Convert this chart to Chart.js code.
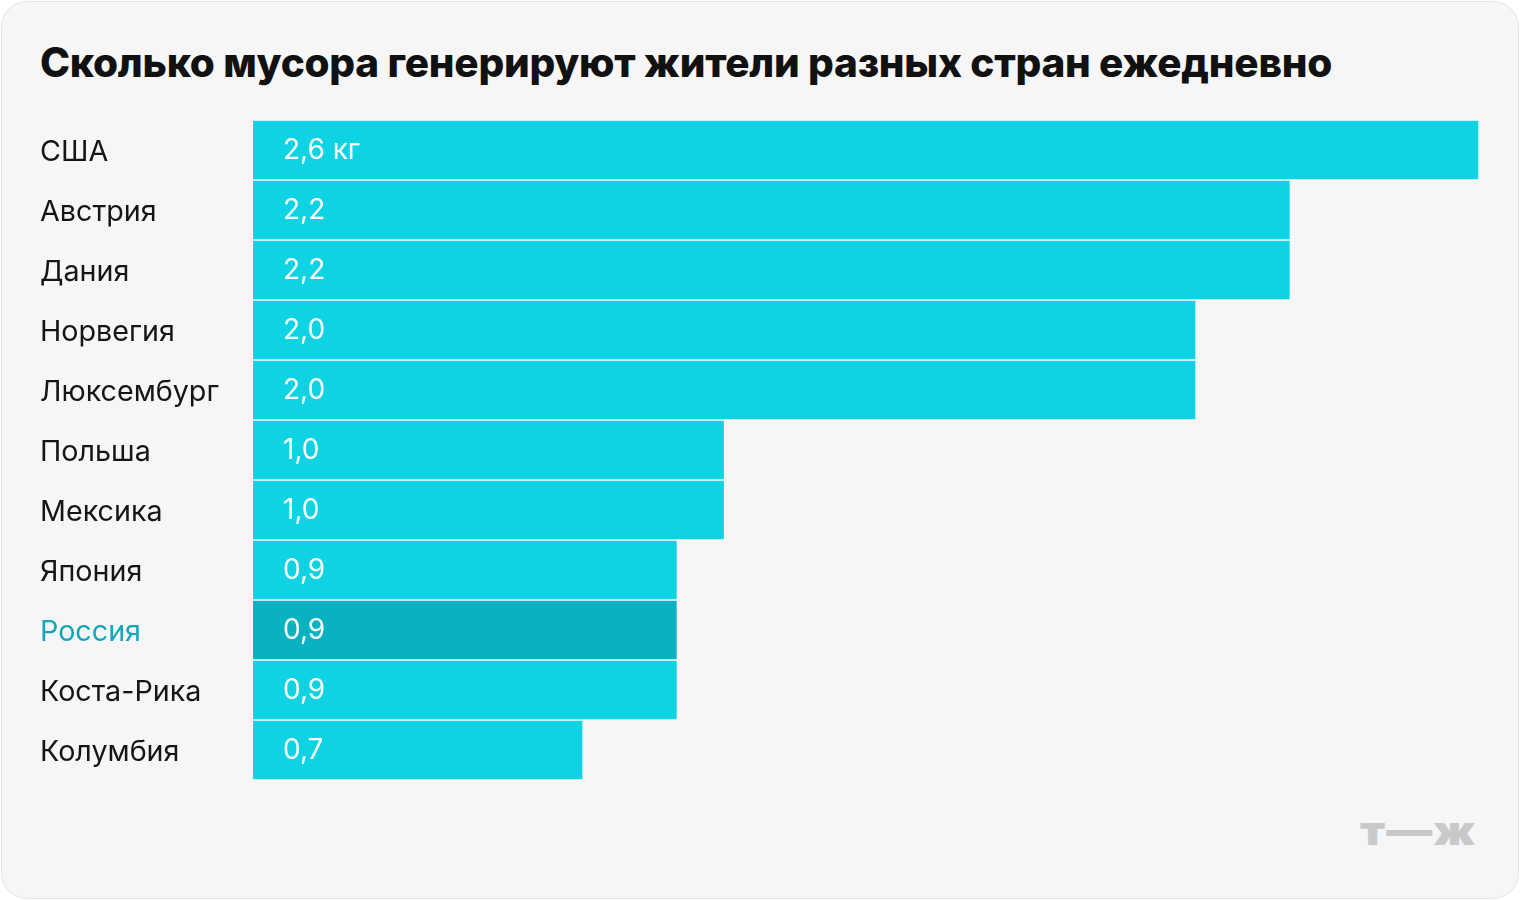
<!DOCTYPE html>
<html><head><meta charset="utf-8">
<script src="https://cdn.jsdelivr.net/npm/chart.js@4"></script>
<style>
body{margin:0;background:#fff;font-family:Inter,Roboto,sans-serif}
#card{position:absolute;left:1px;top:1px;width:1516px;height:896px;border:1px solid #e4e4e4;border-radius:26px;background:#f6f6f6}
h1{position:absolute;left:40px;top:38px;margin:0;font-size:40.5px;font-weight:800;color:#111;letter-spacing:-0.25px}
#logo{position:absolute;left:1360px;top:806px;font-size:40px;font-weight:900;color:#c9c9c9;letter-spacing:1px;transform:scaleX(1.15);transform-origin:left}
canvas{position:absolute;left:0;top:0}
</style></head><body>
<div id="card"></div>
<h1>Сколько мусора генерируют жители разных стран ежедневно</h1>
<div id="logo">т—ж</div>
<div style="position:absolute;left:0;top:0;width:1520px;height:900px"><canvas id="myChart"></canvas></div>
<script>
let countries = ["США","Австрия","Дания","Норвегия","Люксембург","Польша","Мексика","Япония","Россия","Коста-Рика","Колумбия"];
let values = [2.6,2.2,2.2,2.0,2.0,1.0,1.0,0.9,0.9,0.9,0.7];
let valueLabels = ["2,6 кг","2,2","2,2","2,0","2,0","1,0","1,0","0,9","0,9","0,9","0,7"];
let highlight = "Россия";

let colors = countries.map(c => c==highlight ? "#0ab1c0" : "#0fd3e3");

let barText = {
  id:"barText",
  afterDatasetsDraw(chart){
    let c = chart.ctx;
    c.save();
    c.font = "28px Inter, Roboto, sans-serif";
    c.fillStyle = "#fff";
    c.textBaseline = "middle";
    chart.getDatasetMeta(0).data.forEach((b,i)=>{
      c.fillText(valueLabels[i], b.base+30, b.y+1);
    });
    c.restore();
  }
};

let ctx = document.getElementById("myChart");
new Chart(ctx, {
  type:"bar",
  data:{labels:countries, datasets:[{data:values, backgroundColor:colors, borderColor:"#fff", borderWidth:1, borderSkipped:"left", barPercentage:1, categoryPercentage:1}]},
  options:{
    indexAxis:"y", responsive:true, maintainAspectRatio:false, animation:false,
    layout:{padding:{left:40,top:120,right:41,bottom:120}},
    plugins:{legend:{display:false},tooltip:{enabled:false}},
    scales:{
      x:{display:false,min:0,max:2.6},
      y:{grid:{display:false},border:{display:false},
        afterFit(s){s.width=213;},
        ticks:{crossAlign:"far",padding:0,labelOffset:2,font:{size:28.7,family:"Inter, Roboto, sans-serif"},
          color:(t)=>countries[t.index]==highlight?"#13a7b6":"#151515"}}
    }
  },
  plugins:[barText]
});
</script>
</body></html>
